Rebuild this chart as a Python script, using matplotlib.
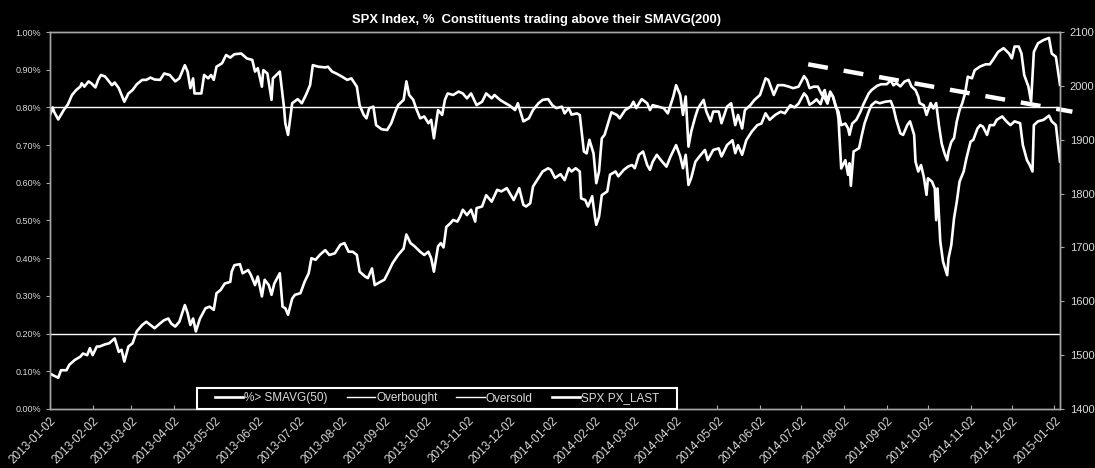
import matplotlib
matplotlib.use('Agg')
import matplotlib.pyplot as plt
import matplotlib.dates as mdates
from matplotlib.patches import Rectangle
from matplotlib.ticker import FuncFormatter, MultipleLocator
import pandas as pd

start = pd.Timestamp('2013-01-02')
end = pd.Timestamp('2015-01-06')

# % of constituents above SMAVG (days after 2013-01-02)
pct_day = [0, 2, 3, 6, 10, 13, 16, 19, 22, 23, 25, 28, 30, 33, 35, 37, 40, 42, 45, 47,
           50, 52, 54, 57, 60, 63, 67, 70, 73, 76, 80, 83, 87, 91, 94, 98, 100, 102, 104, 105,
           110, 112, 115, 117, 119, 121, 125, 128, 131, 134, 139, 143, 147, 149, 151, 154, 155, 158, 161, 162,
           167, 170, 171, 173, 176, 180, 183, 186, 189, 191, 195, 200, 202, 205, 208, 212, 216, 219, 223, 225,
           228, 230, 232, 235, 237, 241, 245, 248, 251, 253, 257, 259, 261, 264, 266, 269, 272, 275, 277, 279,
           282, 285, 287, 289, 293, 297, 300, 303, 306, 310, 314, 317, 321, 323, 327, 331, 334, 338, 340, 344,
           348, 351, 355, 358, 362, 365, 368, 372, 374, 377, 379, 383, 385, 388, 390, 392, 395, 397, 399, 401,
           403, 406, 408, 412, 414, 418, 422, 424, 426, 430, 434, 436, 438, 442, 446, 449, 453, 455, 458, 460,
           462, 464, 466, 469, 471, 475, 477, 480, 482, 486, 488, 492, 495, 498, 500, 503, 505, 509, 512, 516,
           520, 522, 526, 529, 533, 537, 540, 544, 548, 550, 552, 555, 558, 561, 563, 565, 567, 569, 572, 573,
           575, 578, 580, 581, 582, 584, 588, 590, 592, 595, 597, 600, 603, 607, 611, 613, 615, 618, 620, 623,
           625, 628, 629, 631, 633, 635, 637, 638, 641, 643, 644, 645, 647, 649, 652, 653, 655, 657, 659, 661,
           664, 666, 669, 671, 674, 676, 678, 681, 683, 686, 688, 692, 695, 698, 701, 705, 707, 710, 712, 714,
           715, 718, 722, 726, 728, 731, 734]
pct_val = [0.780, 0.800, 0.788, 0.768, 0.793, 0.808, 0.833, 0.846, 0.855, 0.864, 0.855, 0.869, 0.864, 0.853, 0.873, 0.886, 0.882, 0.873, 0.859, 0.866,
           0.851, 0.833, 0.815, 0.837, 0.846, 0.861, 0.873, 0.873, 0.879, 0.874, 0.873, 0.890, 0.886, 0.869, 0.877, 0.912, 0.895, 0.851, 0.877, 0.837,
           0.837, 0.886, 0.877, 0.886, 0.873, 0.908, 0.917, 0.939, 0.932, 0.941, 0.943, 0.930, 0.926, 0.895, 0.904, 0.855, 0.899, 0.890, 0.820, 0.877,
           0.895, 0.802, 0.758, 0.727, 0.811, 0.822, 0.811, 0.833, 0.859, 0.912, 0.908, 0.906, 0.908, 0.895, 0.890, 0.882, 0.873, 0.877, 0.855, 0.806,
           0.780, 0.771, 0.798, 0.802, 0.753, 0.742, 0.740, 0.758, 0.789, 0.806, 0.820, 0.869, 0.833, 0.820, 0.798, 0.771, 0.776, 0.758, 0.767, 0.718,
           0.793, 0.780, 0.820, 0.837, 0.833, 0.842, 0.837, 0.824, 0.837, 0.806, 0.815, 0.837, 0.824, 0.833, 0.820, 0.811, 0.805, 0.793, 0.811, 0.763,
           0.771, 0.793, 0.811, 0.820, 0.822, 0.806, 0.798, 0.802, 0.784, 0.798, 0.781, 0.784, 0.780, 0.683, 0.678, 0.714, 0.678, 0.599, 0.630, 0.718,
           0.727, 0.763, 0.787, 0.780, 0.771, 0.793, 0.802, 0.815, 0.798, 0.822, 0.811, 0.793, 0.806, 0.802, 0.798, 0.784, 0.829, 0.859, 0.833, 0.780,
           0.829, 0.696, 0.736, 0.776, 0.798, 0.820, 0.789, 0.763, 0.789, 0.789, 0.758, 0.802, 0.811, 0.753, 0.780, 0.744, 0.793, 0.806, 0.820, 0.833,
           0.877, 0.873, 0.833, 0.859, 0.859, 0.855, 0.851, 0.855, 0.883, 0.873, 0.851, 0.855, 0.855, 0.833, 0.846, 0.815, 0.842, 0.829, 0.793, 0.771,
           0.638, 0.660, 0.621, 0.652, 0.592, 0.683, 0.692, 0.727, 0.758, 0.789, 0.806, 0.815, 0.811, 0.815, 0.817, 0.798, 0.767, 0.731, 0.727, 0.753,
           0.763, 0.727, 0.656, 0.630, 0.647, 0.616, 0.568, 0.612, 0.603, 0.585, 0.501, 0.585, 0.444, 0.391, 0.355, 0.400, 0.435, 0.506, 0.550, 0.603,
           0.630, 0.665, 0.709, 0.714, 0.744, 0.753, 0.749, 0.727, 0.753, 0.753, 0.767, 0.776, 0.763, 0.753, 0.763, 0.758, 0.700, 0.660, 0.647, 0.630,
           0.753, 0.763, 0.767, 0.778, 0.763, 0.753, 0.656]

# SPX last price
spx_day = [0, 2, 6, 8, 12, 14, 18, 22, 24, 27, 29, 31, 34, 36, 40, 43, 47, 50, 52, 54,
           57, 60, 63, 67, 70, 73, 76, 80, 83, 86, 88, 91, 94, 98, 100, 102, 104, 106, 109, 113,
           116, 119, 121, 124, 127, 131, 132, 134, 138, 140, 144, 146, 149, 151, 154, 156, 159, 161, 163, 167,
           169, 171, 173, 176, 178, 182, 185, 188, 190, 193, 196, 200, 203, 207, 211, 214, 217, 220, 223, 225,
           229, 231, 234, 236, 240, 243, 246, 249, 253, 257, 259, 262, 265, 269, 272, 275, 277, 279, 282, 284,
           286, 288, 291, 293, 296, 298, 300, 303, 306, 309, 310, 314, 317, 321, 325, 328, 332, 335, 337, 341,
           344, 346, 349, 351, 355, 358, 362, 364, 367, 371, 374, 377, 379, 382, 385, 386, 389, 391, 394, 396,
           397, 399, 401, 405, 407, 411, 413, 417, 420, 423, 425, 428, 431, 434, 436, 438, 441, 444, 448, 451,
           455, 458, 460, 462, 464, 466, 469, 472, 476, 478, 482, 486, 488, 492, 496, 498, 500, 503, 506, 510,
           514, 517, 520, 523, 527, 531, 534, 538, 541, 544, 548, 550, 552, 555, 557, 560, 562, 565, 567, 569,
           571, 573, 575, 578, 580, 581, 583, 586, 589, 591, 595, 597, 601, 604, 608, 611, 613, 615, 618, 621,
           624, 626, 629, 631, 632, 635, 637, 640, 642, 644, 646, 648, 650, 652, 653, 655, 657, 659, 661, 663,
           665, 667, 670, 672, 676, 680, 683, 686, 689, 693, 697, 699, 701, 704, 706, 708, 711, 713, 715, 718,
           722, 726, 728, 731, 734]
spx_val = [1466, 1463, 1458, 1472, 1472, 1482, 1491, 1497, 1503, 1500, 1513, 1500, 1516, 1516, 1520, 1522, 1531, 1506, 1510, 1488,
           1516, 1522, 1544, 1556, 1562, 1556, 1550, 1559, 1565, 1568, 1559, 1553, 1562, 1593, 1578, 1556, 1568, 1544, 1568, 1587,
           1590, 1584, 1615, 1621, 1633, 1636, 1655, 1667, 1669, 1652, 1658, 1649, 1630, 1646, 1609, 1640, 1630, 1612, 1633, 1652,
           1590, 1587, 1575, 1605, 1612, 1615, 1636, 1652, 1680, 1677, 1686, 1695, 1686, 1689, 1705, 1708, 1692, 1692, 1686, 1655,
           1646, 1643, 1661, 1630, 1636, 1640, 1655, 1671, 1686, 1698, 1724, 1708, 1702, 1692, 1686, 1692, 1680, 1655, 1702, 1708,
           1700, 1738, 1745, 1751, 1748, 1757, 1770, 1760, 1770, 1748, 1773, 1776, 1797, 1785, 1807, 1804, 1810, 1797, 1788, 1810,
           1779, 1776, 1782, 1813, 1829, 1841, 1847, 1844, 1829, 1836, 1825, 1847, 1841, 1847, 1841, 1791, 1788, 1776, 1795, 1757,
           1742, 1757, 1797, 1804, 1835, 1841, 1832, 1844, 1850, 1853, 1847, 1872, 1878, 1853, 1844, 1859, 1872, 1862, 1850, 1869,
           1890, 1869, 1847, 1872, 1816, 1829, 1859, 1869, 1881, 1862, 1881, 1884, 1869, 1890, 1899, 1875, 1890, 1872, 1899, 1915,
           1927, 1930, 1949, 1937, 1946, 1952, 1949, 1964, 1960, 1967, 1986, 1980, 1965, 1970, 1975, 1966, 1983, 1967, 1986, 1980,
           1961, 1952, 1927, 1930, 1921, 1909, 1930, 1937, 1952, 1965, 1986, 1992, 2000, 2003, 2003, 2010, 2001, 2005, 1999, 2008,
           2011, 1999, 1992, 1980, 1968, 1964, 1946, 1968, 1958, 1968, 1927, 1893, 1875, 1862, 1878, 1896, 1903, 1934, 1955, 1968,
           1986, 2017, 2014, 2029, 2036, 2040, 2040, 2051, 2063, 2070, 2060, 2051, 2073, 2073, 2060, 2020, 1999, 1971, 2063, 2079,
           2085, 2089, 2060, 2054, 2002]

overbought = 0.80
oversold = 0.20

# hand drawn resistance line (right axis)
trend_day = [551, 743]
trend_val = [2040, 1952]

pct_dates = start + pd.to_timedelta(pct_day, unit='D')
spx_dates = start + pd.to_timedelta(spx_day, unit='D')
trend_dates = start + pd.to_timedelta(trend_day, unit='D')

txt = '#d9d9d9'
axis_grey = '#a6a6a6'
fam = ['Liberation Sans', 'DejaVu Sans']

fig = plt.figure(figsize=(10.95, 4.68), dpi=100, facecolor='black')
ax = fig.add_axes([50 / 1095, 1 - 409 / 468, 1010 / 1095, 377 / 468])
ax.set_facecolor('black')
ax2 = ax.twinx()

l1, = ax.plot(pct_dates, pct_val, color='white', lw=1.9, label='%> SMAVG(50)')
lob = ax.axhline(overbought, color='white', lw=1.0, label='Overbought')
los = ax.axhline(oversold, color='white', lw=1.0, label='Oversold')
l2, = ax2.plot(spx_dates, spx_val, color='white', lw=1.9, label='SPX PX_LAST')
tl, = ax2.plot(trend_dates, trend_val, color='white', lw=3.2, clip_on=False)
tl.set_dashes((4.5, 3.6))
tl.set_dash_capstyle('butt')

ax.set_xlim(start, end)
ax.set_ylim(0, 1.0)
ax2.set_ylim(1400, 2100)

ax.yaxis.set_major_locator(MultipleLocator(0.1))
ax.yaxis.set_major_formatter(FuncFormatter(lambda v, p: '%.2f%%' % v))
ax2.yaxis.set_major_locator(MultipleLocator(100))

ax.xaxis.set_major_locator(mdates.MonthLocator(bymonthday=2))
ax.xaxis.set_major_formatter(mdates.DateFormatter('%Y-%m-%d'))

for a in (ax, ax2):
    for s in a.spines.values():
        s.set_color(axis_grey)
        s.set_linewidth(1.0)

ax.tick_params(axis='y', colors=axis_grey, labelcolor=txt, labelsize=6.5, length=3, direction='out')
ax.tick_params(axis='x', colors=axis_grey, labelcolor=txt, labelsize=8.5, length=3, direction='in', pad=4)
ax2.tick_params(axis='y', colors=axis_grey, labelcolor=txt, labelsize=8, length=3, direction='out', pad=4)
for lab in ax.get_xticklabels():
    lab.set_rotation(45)
    lab.set_ha('right')
    lab.set_rotation_mode('anchor')

for lab in ax.get_yticklabels() + ax2.get_yticklabels() + ax.get_xticklabels():
    lab.set_family(fam)

fig.text(0.49, 1 - 20 / 468, 'SPX Index, %  Constituents trading above their SMAVG(200)',
         color='white', fontsize=9.4, fontweight='bold', ha='center', va='center', family=fam)

# legend box sits on the bottom axis, from x=197 to x=677 px
box_x0 = 147 / 1010
box_w = 480 / 1010
box_h = 21 / 377
ax2.add_patch(Rectangle((box_x0, 0), box_w, box_h, transform=ax2.transAxes,
                        facecolor='black', edgecolor='white', lw=1.5, zorder=4.5, clip_on=False))
leg = ax2.legend(handles=[l1, lob, los, l2], loc='center', ncol=4,
                 bbox_to_anchor=(box_x0 + box_w / 2, box_h / 2), frameon=False,
                 handlelength=2.4, handletextpad=0.1, columnspacing=1.6,
                 borderpad=0.0, borderaxespad=0.0,
                 prop={'family': fam, 'size': 8.5})
leg.set_zorder(6)
for t in leg.get_texts():
    t.set_color(txt)

fig.savefig('out.png', dpi=100, facecolor='black')
